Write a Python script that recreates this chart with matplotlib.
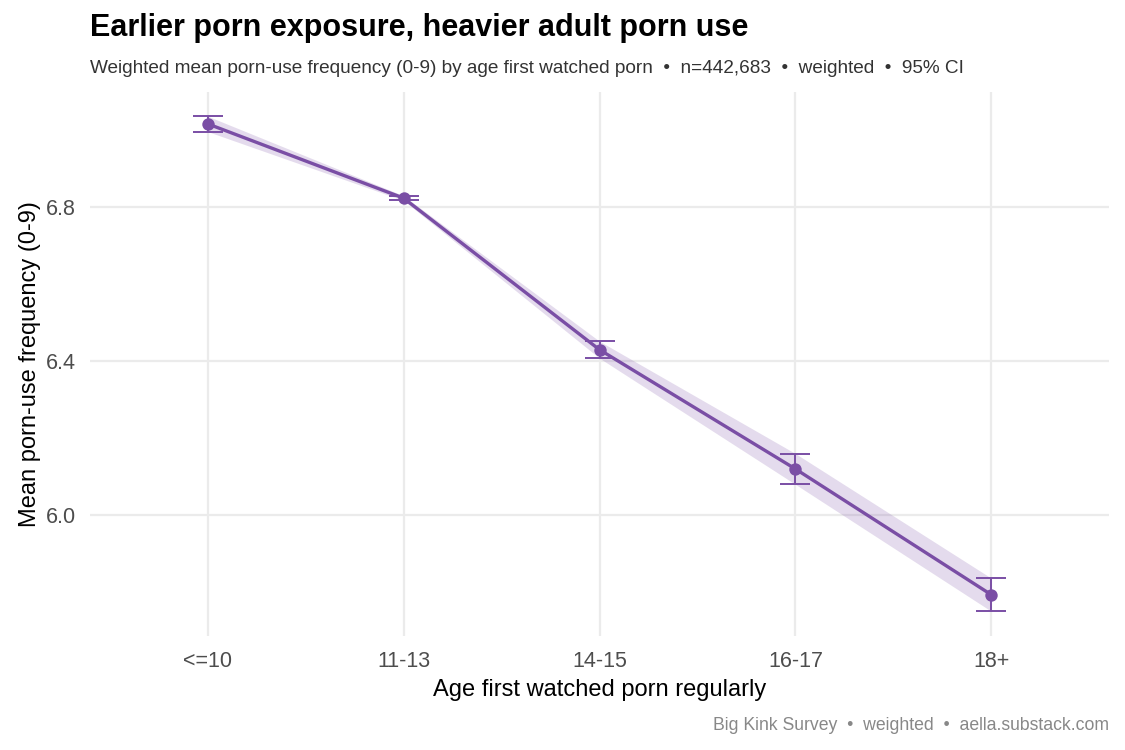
import matplotlib
matplotlib.use("Agg")
import matplotlib.pyplot as plt
import numpy as np

plt.rcParams['font.family'] = ['Liberation Sans', 'DejaVu Sans']

# data
age_groups = ["<=10", "11-13", "14-15", "16-17", "18+"]
mean_freq = [7.016, 6.823, 6.429, 6.119, 5.792]
ci_low = [6.996, 6.817, 6.407, 6.079, 5.749]
ci_high = [7.036, 6.829, 6.451, 6.159, 5.835]

purple = "#7A4EA5"
grid_col = "#EBEBEB"

fig = plt.figure(figsize=(11.25, 7.5), dpi=100)
ax = fig.add_axes([0.08, 0.152, 0.9058, 0.726])

x = np.arange(len(age_groups))
mean_freq = np.array(mean_freq)
ci_low = np.array(ci_low)
ci_high = np.array(ci_high)

ax.fill_between(x, ci_low, ci_high, color=purple, alpha=0.2, linewidth=0, zorder=2)
ax.plot(x, mean_freq, color=purple, linewidth=2.4, zorder=3, solid_capstyle='butt')
ax.errorbar(x, mean_freq, yerr=[mean_freq - ci_low, ci_high - mean_freq], fmt='none',
            ecolor=purple, elinewidth=1.4, capsize=11, capthick=1.4, zorder=4)
ax.scatter(x, mean_freq, s=80, color=purple, zorder=5, linewidths=0)

ax.set_xlim(-0.6, len(age_groups) - 0.4)
ax.set_ylim(5.685, 7.10)
ax.set_xticks(x)
ax.set_xticklabels(age_groups)
ax.set_yticks([6.0, 6.4, 6.8])
ax.set_yticklabels(["6.0", "6.4", "6.8"])

for s in ax.spines.values():
    s.set_visible(False)
ax.grid(True, color=grid_col, linewidth=1.6)
ax.set_axisbelow(True)
ax.tick_params(length=0, labelsize=15.5, labelcolor="#4D4D4D")
ax.tick_params(axis='x', pad=11)
ax.tick_params(axis='y', pad=10)

ax.set_xlabel("Age first watched porn regularly", fontsize=17, color="black", labelpad=5)
ax.set_ylabel("Mean porn-use frequency (0-9)", fontsize=17, color="black", labelpad=3.5)

fig.text(0.08, 0.963, "Earlier porn exposure, heavier adult porn use",
         fontsize=22, fontweight='bold', va='center', ha='left')
fig.text(0.08, 0.909, "Weighted mean porn-use frequency (0-9) by age first watched porn  \u2022  "
         "n=442,683  \u2022  weighted  \u2022  95% CI",
         fontsize=13.7, color="#333333", va='center', ha='left')
fig.text(0.9858, 0.033, "Big Kink Survey  \u2022  weighted  \u2022  aella.substack.com",
         fontsize=12.7, color="#888888", va='center', ha='right')

fig.savefig("out.png", dpi=100, facecolor="white")
